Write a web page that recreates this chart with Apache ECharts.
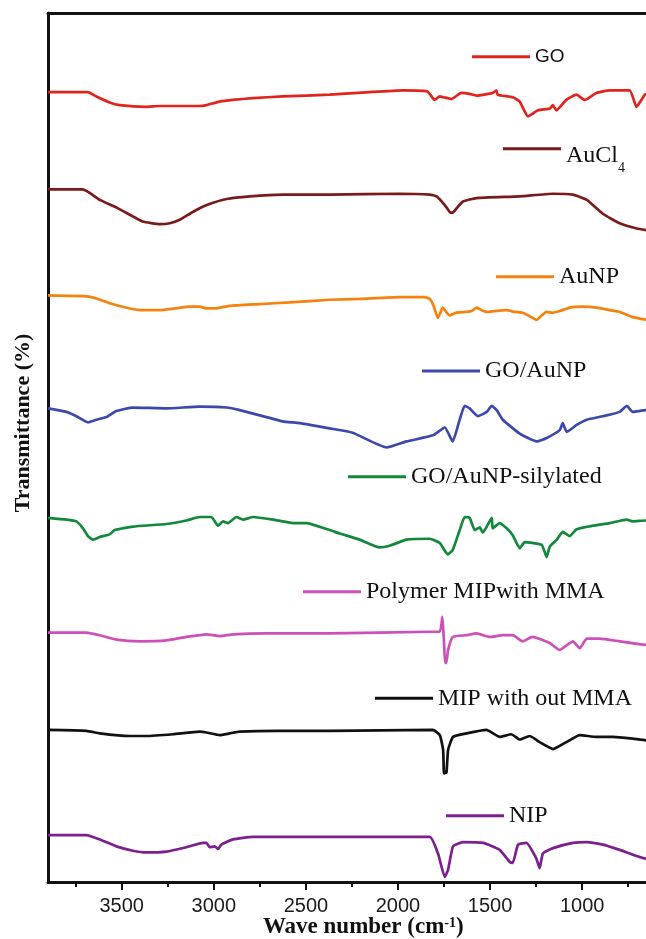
<!DOCTYPE html>
<html>
<head>
<meta charset="utf-8">
<script src="https://cdn.jsdelivr.net/npm/echarts@6/dist/echarts.min.js"></script>
<style>
  html, body { margin: 0; padding: 0; background: #ffffff; }
  #chart { width: 646px; height: 939px; }
</style>
</head>
<body>
<div id="chart"></div>
<script>
// FTIR spectra of the GO / AuNP / MIP materials, stacked with vertical offsets.
// Each spectrum: [wavenumber (cm-1), transmittance (offset, a.u.)]

const seriesNames = ['GO', 'AuCl4', 'AuNP', 'GO/AuNP', 'GO/AuNP-silylated',
  'Polymer MIPwith MMA', 'MIP with out MMA', 'NIP'];

const xTickLabels = [1000, 1500, 2000, 2500, 3000, 3500];
const xMinorTicks = [750, 1250, 1750, 2250, 2750, 3250, 3750];

const goSpectrum = [[3900,90.9],[3684,90.9],[3637,90.4],[3565,89.7],[3511,89.4],[3368,89.2],[3294,89.3],[3076,89.3],[3040,89.4],[2968,89.8],[2897,90.0],[2789,90.2],[2626,90.4],[2371,90.6],[2153,90.9],[1974,91.1],[1844,91.0],[1828,90.7],[1801,90.0],[1773,90.4],[1752,90.3],[1710,90.1],[1656,90.8],[1611,90.7],[1574,90.5],[1510,90.7],[1486,90.8],[1466,91.1],[1459,90.6],[1377,90.3],[1339,89.8],[1294,88.1],[1240,88.8],[1176,89.0],[1160,89.4],[1140,88.8],[1086,90.0],[1031,90.6],[986,90.0],[923,90.8],[850,91.1],[742,91.1],[705,89.2],[660,90.6],[645,90.7]];

const auCl4Spectrum = [[3900,79.7],[3712,79.7],[3674,79.3],[3619,78.5],[3527,77.6],[3440,76.6],[3386,76.0],[3294,75.7],[3239,75.8],[3185,76.2],[3114,77.1],[3038,77.9],[2930,78.6],[2805,78.9],[2626,79.1],[2371,79.1],[1991,79.2],[1828,79.1],[1791,78.9],[1746,77.9],[1719,77.1],[1705,77.0],[1683,77.5],[1647,78.3],[1574,78.7],[1339,78.9],[1160,79.2],[1051,79.1],[975,78.5],[888,76.9],[796,75.8],[704,75.2],[645,75.0]];

const auNpSpectrum = [[3900,67.5],[3690,67.4],[3646,67.2],[3565,66.6],[3456,66.0],[3386,65.8],[3294,65.8],[3212,66.0],[3131,66.2],[3076,66.2],[3038,66.0],[2995,66.0],[2914,66.3],[2751,66.5],[2588,66.7],[2371,67.0],[2208,67.1],[1991,67.3],[1855,67.3],[1828,67.1],[1806,66.3],[1784,64.9],[1768,65.6],[1757,66.1],[1735,65.5],[1719,65.2],[1687,65.5],[1627,65.6],[1600,65.7],[1573,66.1],[1545,65.8],[1518,65.6],[1475,65.7],[1410,65.8],[1366,65.6],[1323,65.5],[1285,65.1],[1247,64.7],[1220,65.2],[1193,65.6],[1160,65.5],[1122,65.7],[1068,66.1],[997,66.2],[921,66.1],[850,65.8],[796,65.6],[726,65.0],[655,64.7],[645,64.6]];

const goAuNpSpectrum = [[3900,54.5],[3800,54.1],[3746,53.6],[3683,52.9],[3637,53.2],[3583,53.5],[3529,54.2],[3440,54.6],[3257,54.5],[3076,54.7],[2931,54.6],[2859,54.3],[2714,53.5],[2626,53.0],[2533,52.8],[2371,52.2],[2246,51.7],[2061,50.0],[1953,50.7],[1810,51.4],[1746,52.3],[1703,50.7],[1665,53.2],[1638,54.8],[1611,54.5],[1567,53.6],[1518,54.1],[1491,54.8],[1464,54.3],[1431,53.2],[1339,51.6],[1247,50.7],[1193,51.1],[1122,52.0],[1106,52.8],[1084,51.8],[1030,52.6],[975,53.2],[888,53.6],[796,54.1],[758,54.8],[726,54.1],[655,54.3],[645,54.3]];

const silylatedSpectrum = [[3900,41.9],[3800,41.7],[3746,41.5],[3710,40.7],[3683,39.8],[3656,39.4],[3619,39.7],[3565,40.0],[3538,40.5],[3439,40.9],[3257,41.2],[3149,41.6],[3076,42.0],[3013,42.0],[2977,41.0],[2950,41.5],[2923,41.3],[2877,42.0],[2841,41.7],[2787,42.0],[2678,41.7],[2570,41.3],[2497,41.3],[2371,40.5],[2316,40.1],[2208,39.4],[2099,38.5],[2045,38.7],[1953,39.4],[1828,39.5],[1773,39.0],[1730,37.7],[1703,38.2],[1665,40.5],[1638,42.0],[1611,41.9],[1583,40.5],[1556,40.8],[1540,40.2],[1518,40.9],[1491,41.9],[1486,40.7],[1448,41.3],[1410,40.7],[1377,39.9],[1339,38.4],[1312,39.1],[1220,38.8],[1193,37.4],[1176,38.6],[1138,39.4],[1106,40.3],[1068,39.8],[1030,40.6],[943,41.0],[850,41.3],[758,41.7],[726,41.5],[655,41.6],[645,41.6]];

const mipWithMmaSpectrum = [[3900,28.7],[3692,28.7],[3619,28.4],[3529,27.9],[3402,27.7],[3257,27.8],[3149,28.2],[3040,28.5],[2968,28.3],[2896,28.5],[2714,28.6],[2371,28.6],[1828,28.8],[1773,28.8],[1759,30.5],[1750,27.5],[1744,25.2],[1738,25.2],[1728,26.7],[1703,28.2],[1628,28.4],[1574,28.6],[1502,28.2],[1431,28.4],[1377,28.4],[1323,27.7],[1269,28.2],[1176,27.5],[1122,26.7],[1051,27.7],[1013,26.9],[975,28.0],[905,28.0],[796,27.7],[655,27.3],[645,27.3]];

const mipWithoutMmaSpectrum = [[3900,17.5],[3692,17.4],[3619,17.1],[3456,16.8],[3368,16.8],[3221,17.0],[3076,17.3],[3040,17.2],[2968,16.9],[2914,17.1],[2859,17.3],[2660,17.4],[2371,17.4],[1811,17.5],[1773,16.9],[1755,15.2],[1750,12.5],[1737,12.6],[1728,15.2],[1701,16.7],[1628,17.1],[1520,17.5],[1448,16.7],[1385,17.0],[1339,16.4],[1285,16.8],[1231,16.1],[1158,15.3],[1086,16.1],[1013,16.9],[923,16.7],[834,16.7],[726,16.5],[655,16.3],[645,16.3]];

const nipSpectrum = [[3900,5.4],[3692,5.4],[3619,4.9],[3529,4.1],[3439,3.6],[3368,3.4],[3257,3.5],[3149,4.0],[3058,4.5],[3040,4.5],[3022,4.0],[2995,4.1],[2977,3.8],[2959,4.3],[2896,4.9],[2787,5.2],[2371,5.2],[1828,5.2],[1783,3.3],[1746,0.6],[1728,1.4],[1701,4.1],[1647,4.6],[1538,4.5],[1448,3.7],[1393,2.3],[1377,2.2],[1348,4.3],[1303,4.5],[1249,2.7],[1231,1.6],[1213,3.3],[1158,3.9],[1050,4.5],[977,4.6],[887,4.3],[796,3.7],[655,2.7],[645,2.7]];

const spectra = [goSpectrum, auCl4Spectrum, auNpSpectrum, goAuNpSpectrum,
  silylatedSpectrum, mipWithMmaSpectrum, mipWithoutMmaSpectrum, nipSpectrum];

// ---- styling / layout ----
const palette = ['#e0231c', '#7a1a1a', '#f5820f', '#3b48ad', '#12893a', '#cc50b8', '#111111', '#7c1f8f'];
const SERIF = '"Liberation Serif", "Times New Roman", serif';
const SANS = '"Liberation Sans", Arial, sans-serif';

// in-plot series labels: left edge of the key line and its vertical centre
const keySpots = [
  { left: 472, y: 56.7 }, { left: 503, y: 155.3 }, { left: 496, y: 276.7 },
  { left: 422, y: 371 }, { left: 348, y: 476.7 }, { left: 303, y: 591.7 },
  { left: 375, y: 698.3 }, { left: 446, y: 815.7 }
];

const legends = seriesNames.map((name, i) => {
  const spot = keySpots[i];
  let textStyle, blockH;
  if (i === 0) {
    blockH = 22;
    textStyle = { fontFamily: SANS, fontSize: 19, color: '#111', lineHeight: blockH };
  } else if (name === 'AuCl4') {
    blockH = 37.2;
    textStyle = {
      fontFamily: SERIF, fontSize: 24, color: '#111',
      rich: {
        m: { fontFamily: SERIF, fontSize: 24, lineHeight: 24, color: '#111', verticalAlign: 'top', padding: [6.6, 0, 0, 0] },
        sub: { fontFamily: SERIF, fontSize: 14, lineHeight: 13, color: '#111', verticalAlign: 'top', padding: [24.2, 0, 0, 0] }
      }
    };
  } else {
    blockH = 26;
    textStyle = { fontFamily: SERIF, fontSize: 24, color: '#111', lineHeight: blockH };
  }
  return {
    show: true,
    left: spot.left,
    top: spot.y - blockH / 2,
    padding: 0,
    orient: 'horizontal',
    selectedMode: false,
    data: [name],
    icon: 'rect',
    itemWidth: 58,
    itemHeight: 3,
    itemStyle: { borderWidth: 0 },
    formatter: name === 'AuCl4' ? () => '{m|AuCl}{sub|4}' : undefined,
    textStyle
  };
});

const X_MIN = 640, X_MAX = 3900;
const baseX = {
  type: 'value', min: X_MIN, max: X_MAX, inverse: true,
  splitLine: { show: false }
};

const option = {
  animation: false,
  backgroundColor: '#ffffff',
  grid: { left: 48, top: 13, width: 600.5, height: 869, containLabel: false, outerBoundsMode: 'none' },
  legend: legends,
  xAxis: [
    Object.assign({}, baseX, {
      position: 'bottom',
      name: 'Wave number (cm{sup|-1})',
      nameLocation: 'middle',
      nameGap: 34,
      nameMoveOverlap: false,
      nameTextStyle: {
        fontFamily: SERIF, fontWeight: 'bold', fontSize: 23, color: '#111',
        padding: [0, 0, 0, 30],
        rich: {
          sup: { fontFamily: SERIF, fontWeight: 'bold', fontSize: 14, lineHeight: 14, verticalAlign: 'top', color: '#111' }
        }
      },
      axisLine: { show: true, onZero: false, lineStyle: { color: '#111', width: 3 } },
      axisTick: { show: true, inside: false, length: 8, lineStyle: { color: '#111', width: 2 }, customValues: xTickLabels },
      axisLabel: {
        show: true, margin: 14, fontFamily: SANS, fontSize: 20, color: '#1a1a1a',
        customValues: xTickLabels, formatter: (v) => String(v)
      }
    }),
    Object.assign({}, baseX, {
      position: 'top',
      axisLine: { show: true, onZero: false, lineStyle: { color: '#111', width: 3 } },
      axisTick: { show: false },
      axisLabel: { show: false }
    }),
    Object.assign({}, baseX, {
      position: 'bottom',
      axisLine: { show: false },
      axisTick: { show: true, inside: false, length: 5, lineStyle: { color: '#111', width: 2 }, customValues: xMinorTicks },
      axisLabel: { show: false }
    })
  ],
  yAxis: {
    type: 'value', min: 0, max: 100,
    name: 'Transmittance (%)',
    nameLocation: 'middle',
    nameGap: 14,
    nameMoveOverlap: false,
    nameTextStyle: {
      fontFamily: SERIF, fontWeight: 'bold', fontSize: 22, color: '#111',
      padding: [0, 0, 0, 49]
    },
    axisLine: { show: true, onZero: false, lineStyle: { color: '#111', width: 3 } },
    axisTick: { show: false },
    axisLabel: { show: false },
    splitLine: { show: false }
  },
  series: seriesNames.map((name, i) => ({
    name,
    type: 'line',
    xAxisIndex: 0,
    data: spectra[i],
    showSymbol: false,
    smooth: 0.15,
    clip: true,
    itemStyle: { color: palette[i] },
    lineStyle: { color: palette[i], width: 2.7 },
    emphasis: { disabled: true }
  }))
};

const chart = echarts.init(document.getElementById('chart'), null, { renderer: 'canvas' });
chart.setOption(option);
</script>
</body>
</html>
